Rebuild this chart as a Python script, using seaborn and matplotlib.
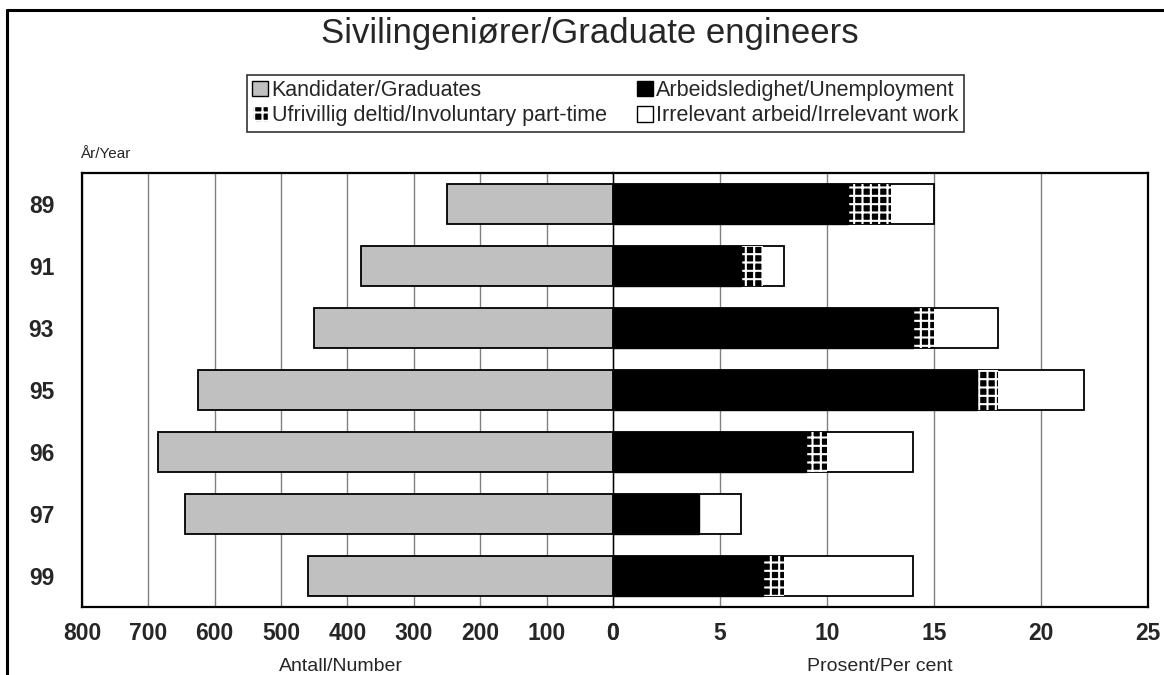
import pandas as pd
import matplotlib.pyplot as plt
import seaborn as sns
from matplotlib.patches import Patch
from matplotlib.lines import Line2D

years = ["89", "91", "93", "95", "96", "97", "99"]
graduates = [250, 380, 450, 625, 685, 645, 460]
unemployment = [11, 6, 14, 17, 9, 4, 7]
involuntary = [2, 1, 1, 1, 1, 0, 1]
irrelevant = [2, 1, 3, 4, 4, 2, 6]

left_ticks = [800, 700, 600, 500, 400, 300, 200, 100, 0]
right_ticks = [0, 5, 10, 15, 20, 25]


def main():
    sns.set_theme(style="white")
    plt.rcParams['font.family'] = ['Liberation Sans', 'DejaVu Sans']
    plt.rcParams['hatch.linewidth'] = 1.5

    df = pd.DataFrame({
        'year': years,
        'graduates': graduates,
        'unemp': unemployment,
        'unemp_invol': [u + i for u, i in zip(unemployment, involuntary)],
        'total': [u + i + r for u, i, r in zip(unemployment, involuntary, irrelevant)],
    })

    fig = plt.figure(figsize=(11.64, 6.75), dpi=100)
    ax_l = fig.add_axes([0.0704, 0.1007, 0.4562, 0.6430])
    ax_r = fig.add_axes([0.5266, 0.1007, 0.4597, 0.6430], sharey=ax_l)

    bw = 0.65
    # left: number of graduates
    sns.barplot(data=df, x='graduates', y='year', order=years, orient='h', ax=ax_l,
                color='#c0c0c0', edgecolor='black', linewidth=1.3, width=bw,
                saturation=1, zorder=3)
    ax_l.set_xlim(800, 0)

    # right: stacked percentages
    sns.barplot(data=df, x='total', y='year', order=years, orient='h', ax=ax_r,
                color='white', edgecolor='black', linewidth=1.3, width=bw,
                saturation=1, zorder=3)
    sns.barplot(data=df, x='unemp_invol', y='year', order=years, orient='h', ax=ax_r,
                color='black', edgecolor='white', linewidth=0, hatch='++', width=bw,
                saturation=1, zorder=4)
    sns.barplot(data=df, x='unemp', y='year', order=years, orient='h', ax=ax_r,
                color='black', edgecolor='black', linewidth=1, width=bw,
                saturation=1, zorder=5)
    ax_r.set_xlim(0, 25)

    for ax, ticks in ((ax_l, left_ticks), (ax_r, right_ticks)):
        ax.set_xticks(ticks)
        ax.set_xticklabels([str(t) for t in ticks], fontsize=16.5, fontweight='bold')
        ax.xaxis.grid(True, color='#808080', linewidth=1, zorder=0)
        ax.set_axisbelow(True)
        ax.tick_params(axis='both', length=0, pad=11)
        ax.set_xlabel('')
        ax.set_ylabel('')
        for sp in ax.spines.values():
            sp.set_color('black')
            sp.set_linewidth(1.6)

    ax_l.spines['right'].set_visible(False)
    ax_r.spines['left'].set_linewidth(1)
    ax_r.tick_params(axis='y', labelleft=False)
    ax_l.set_yticks(range(len(years)))
    ax_l.set_yticklabels(years, fontsize=16.5, fontweight='bold')
    ax_l.tick_params(axis='y', pad=20)
    ax_l.set_ylim(len(years) - 0.5, -0.5)

    # texts
    fig.text(0.507, 0.950, "Sivilingeniører/Graduate engineers", ha='center', va='center',
             fontsize=25)
    fig.text(0.069, 0.772, "År/Year", ha='left', va='center', fontsize=11)
    fig.text(0.293, 0.013, "Antall/Number", ha='center', va='center', fontsize=14)
    fig.text(0.756, 0.013, "Prosent/Per cent", ha='center', va='center', fontsize=14)

    handles = [
        Patch(facecolor='#c0c0c0', edgecolor='black', label='Kandidater/Graduates'),
        Patch(facecolor='black', edgecolor='white', hatch='++', label='Ufrivillig deltid/Involuntary part-time'),
        Patch(facecolor='black', edgecolor='black', label='Arbeidsledighet/Unemployment'),
        Patch(facecolor='white', edgecolor='black', label='Irrelevant arbeid/Irrelevant work'),
    ]
    leg = fig.legend(handles=handles, ncol=2, loc='center', bbox_to_anchor=(0.520, 0.847),
                     fontsize=15.5, frameon=True, fancybox=False, edgecolor='black',
                     handlelength=0.75, handleheight=0.75, handletextpad=0.15,
                     columnspacing=1.4, labelspacing=0.2, borderpad=0.25,
                     borderaxespad=0)
    leg.get_frame().set_linewidth(1.2)

    # outer frame lines
    fig.add_artist(Line2D([0.006, 1.0], [0.985, 0.985], color='black', linewidth=2.2,
                          transform=fig.transFigure))
    fig.add_artist(Line2D([0.006, 0.006], [0.0, 0.985], color='black', linewidth=2.2,
                          transform=fig.transFigure))

    fig.savefig('out.png', dpi=100, facecolor='white')


if __name__ == "__main__":
    main()
